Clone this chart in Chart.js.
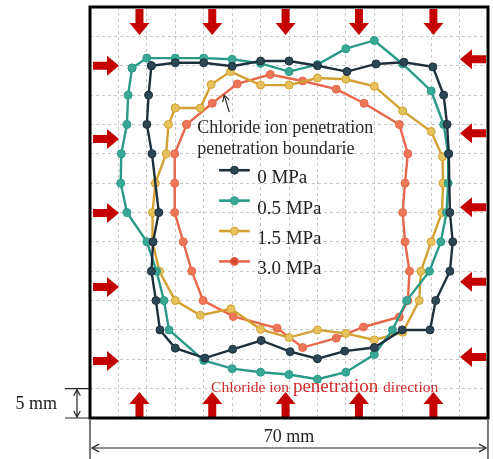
<!DOCTYPE html>
<html>
<head>
<meta charset="utf-8">
<script src="https://cdn.jsdelivr.net/npm/chart.js@4.4.0/dist/chart.umd.min.js"></script>
<style>
  html, body { margin: 0; padding: 0; background: #fff; }
  canvas { display: block; }
</style>
</head>
<body>
<canvas id="chart" width="493" height="459"></canvas>
<script>
// Specimen cross-section, 70 x 70 mm, 5 mm grid
const SIZE_MM = 70;
const GRID_MM = 5;

const seriesLabels = ['0 MPa', '0.5 MPa', '1.5 MPa', '3.0 MPa'];

// Penetration boundaries (mm), traced clockwise from the top-left corner
const mpa0X = [10.8, 15, 20, 25, 30, 35, 40, 45.2, 50.3, 55.2, 60.3, 62.2, 62.8, 63.1, 63.3, 63.8, 63.3, 60.8, 59.8, 54.9, 50, 44.8, 40, 35.2, 30.1, 25.1, 20.2, 15, 12.3, 11.6, 10.8, 11.1, 12.1, 10.9, 10, 10.3];
const mpa0Y = [60, 60.5, 60.5, 59.9, 60.8, 60.8, 60, 59, 60.3, 60.6, 59.8, 55, 50, 45, 35, 30, 25, 20, 15, 15, 12, 11.4, 10.1, 11.3, 13.2, 11.7, 10.2, 11.9, 15, 20, 25, 30, 35, 45, 50, 55];

const mpa05X = [7.4, 10, 15, 20, 25, 30, 35, 40, 45, 50, 55, 60, 62.2, 63, 63, 62.7, 61.7, 59.7, 55.7, 53.2, 50, 45, 40, 35, 30, 25, 20, 13.9, 13, 11.7, 10, 6.5, 5.4, 5.5, 6.5, 6.7];
const mpa05Y = [59.6, 61.3, 61.3, 61.3, 61.1, 60.4, 59, 60.2, 62.9, 64.3, 60.3, 55.7, 50, 45, 40, 35, 30, 25, 20, 15, 10.8, 7.8, 6.6, 7.4, 7.8, 8.4, 9.8, 15, 20, 25, 30, 35, 40, 45, 50, 55];

const mpa15X = [15, 19.4, 21.3, 24.7, 30, 35, 40, 45, 50, 55, 60, 62, 62.1, 61.9, 60, 58.2, 57.9, 55, 50, 45, 40, 35, 30, 24.8, 19.4, 15, 12.2, 11, 11, 11.5, 13.4, 13.8];
const mpa15Y = [52.8, 52.8, 56.8, 59, 56.7, 56.7, 57.9, 57.7, 56.5, 52.3, 48.8, 44.5, 40, 35, 30, 25, 20, 14.6, 13.3, 14.4, 15, 13.7, 15.1, 18.6, 17.5, 20, 25, 30, 35, 40, 45, 50];

const mpa30X = [17, 21.5, 25.9, 31.7, 37.4, 43.3, 48.2, 54.4, 55.9, 55.4, 55, 55.4, 56.2, 55.9, 54.4, 48.1, 43.3, 37.4, 32.9, 25.2, 19.9, 17.9, 16.4, 14.9, 14.9, 14.9];
const mpa30Y = [50, 53.6, 56.9, 58.5, 57.4, 56, 53.6, 50, 45, 40, 35, 30, 25, 20, 17.2, 15.5, 13.6, 12, 15.3, 17.3, 20, 25, 30, 35, 40, 45];

// chloride supply arrows along each face (mm along the face)
const arrowStopsX = [8.7, 21.5, 34.4, 47.3, 60.4];
const arrowStopsLeft = [60.0, 47.5, 34.9, 22.3, 9.7];
const arrowStopsRight = [61.1, 48.5, 35.9, 23.2, 10.4];

const lineColors = ['#1e303b', '#2a9a88', '#d2a132', '#e8674a'];
const pointColors = ['#2c4654', '#3aa894', '#e6c25c', '#ec7658'];

const SERIF = "'Liberation Serif', 'Times New Roman', serif";

function closedLoop(xs, ys) {
    const pts = xs.map((x, i) => ({ x, y: ys[i] }));
    pts.push({ ...pts[0] });
    return pts;
}

const loops = [
    closedLoop(mpa0X, mpa0Y),
    closedLoop(mpa05X, mpa05Y),
    closedLoop(mpa15X, mpa15Y),
    closedLoop(mpa30X, mpa30Y),
];

// solid block arrow from tail (x, y) along unit direction (dx, dy)
function blockArrow(ctx, x, y, dx, dy) {
    const len = 26, shaft = 4, head = 10, headLen = 12;
    const px = -dy, py = dx;
    const bx = x + dx * (len - headLen), by = y + dy * (len - headLen);
    const tx = x + dx * len, ty = y + dy * len;
    ctx.beginPath();
    ctx.moveTo(x + px * shaft, y + py * shaft);
    ctx.lineTo(bx + px * shaft, by + py * shaft);
    ctx.lineTo(bx + px * head, by + py * head);
    ctx.lineTo(tx, ty);
    ctx.lineTo(bx - px * head, by - py * head);
    ctx.lineTo(bx - px * shaft, by - py * shaft);
    ctx.lineTo(x - px * shaft, y - py * shaft);
    ctx.closePath();
    ctx.fill();
}

// thin open arrowhead at (x, y) pointing along (dx, dy)
function openHead(ctx, x, y, dx, dy, size) {
    const px = -dy, py = dx;
    ctx.beginPath();
    ctx.moveTo(x - dx * size + px * size * 0.55, y - dy * size + py * size * 0.55);
    ctx.lineTo(x, y);
    ctx.lineTo(x - dx * size - px * size * 0.55, y - dy * size - py * size * 0.55);
    ctx.stroke();
}

const specimenPlugin = {
    id: 'specimen',
    beforeDatasetsDraw(chart) {
        const { ctx, chartArea: a, scales: { x, y } } = chart;
        ctx.save();
        ctx.fillStyle = '#c40000';
        arrowStopsX.forEach(v => {
            blockArrow(ctx, x.getPixelForValue(v), a.top + 2, 0, 1);
            blockArrow(ctx, x.getPixelForValue(v), a.bottom, 0, -1);
        });
        arrowStopsLeft.forEach(v => blockArrow(ctx, a.left + 3, y.getPixelForValue(v), 1, 0));
        arrowStopsRight.forEach(v => blockArrow(ctx, a.right - 2, y.getPixelForValue(v), -1, 0));
        ctx.restore();
    },
    afterDatasetsDraw(chart) {
        const { ctx, scales: { x, y } } = chart;
        ctx.save();

        // boundary note with pointer
        ctx.fillStyle = '#2a2a2a';
        ctx.font = `18px ${SERIF}`;
        ctx.textBaseline = 'alphabetic';
        ctx.fillText('Chloride ion penetration', x.getPixelForValue(18.85), y.getPixelForValue(48.5));
        ctx.fillText('penetration boundarie', x.getPixelForValue(18.85), y.getPixelForValue(45.0));
        ctx.strokeStyle = '#2a2a2a';
        ctx.lineWidth = 1.2;
        const tipX = x.getPixelForValue(23.6), tipY = y.getPixelForValue(55.0);
        const tailX = x.getPixelForValue(24.5), tailY = y.getPixelForValue(52.1);
        ctx.beginPath();
        ctx.moveTo(tailX, tailY);
        ctx.lineTo(tipX, tipY);
        ctx.stroke();
        const dl = Math.hypot(tipX - tailX, tipY - tailY);
        openHead(ctx, tipX, tipY, (tipX - tailX) / dl, (tipY - tailY) / dl, 6);

        // legend
        const lx0 = x.getPixelForValue(22.7), lx1 = x.getPixelForValue(28.1);
        const textX = x.getPixelForValue(29.4);
        let rowY = y.getPixelForValue(42.2);
        chart.data.datasets.forEach((ds, i) => {
            ctx.strokeStyle = ds.borderColor;
            ctx.lineWidth = 2.6;
            ctx.beginPath();
            ctx.moveTo(lx0, rowY);
            ctx.lineTo(lx1, rowY);
            ctx.stroke();
            ctx.fillStyle = i === 3 ? '#d34a30' : ds.pointBackgroundColor;
            ctx.strokeStyle = ds.borderColor;
            ctx.lineWidth = 1;
            ctx.beginPath();
            ctx.arc((lx0 + lx1) / 2, rowY, 4, 0, Math.PI * 2);
            ctx.fill();
            ctx.stroke();
            ctx.fillStyle = '#222';
            ctx.font = `19px ${SERIF}`;
            ctx.fillText(ds.label, textX, rowY + 13);
            rowY += 30.4;
        });

        // penetration direction caption
        ctx.fillStyle = '#d42a2a';
        let cx = x.getPixelForValue(21.3);
        const base = y.getPixelForValue(4.5);
        [['Chloride ion ', 15.5], ['penetration ', 19], ['direction', 15.5]].forEach(([t, s]) => {
            ctx.font = `${s}px ${SERIF}`;
            ctx.fillText(t, cx, base);
            cx += ctx.measureText(t).width;
        });
        ctx.restore();
    },
    afterDraw(chart) {
        const { ctx, chartArea: a, scales: { x, y } } = chart;
        ctx.save();

        // specimen outline
        ctx.strokeStyle = '#000';
        ctx.lineWidth = 3;
        ctx.strokeRect(a.left, a.top, a.right - a.left, a.bottom - a.top);

        // dimension lines
        ctx.lineWidth = 1.2;
        ctx.strokeStyle = '#222';
        const y5 = y.getPixelForValue(GRID_MM), y0 = y.getPixelForValue(0);
        ctx.beginPath();
        ctx.moveTo(a.left - 25, y5); ctx.lineTo(a.left, y5);
        ctx.moveTo(a.left - 25, y0); ctx.lineTo(a.left, y0);
        ctx.moveTo(a.left - 13, y5 + 1); ctx.lineTo(a.left - 13, y0 - 1);
        ctx.stroke();
        openHead(ctx, a.left - 13, y5 + 1, 0, -1, 6);
        openHead(ctx, a.left - 13, y0 - 1, 0, 1, 6);

        const x0 = x.getPixelForValue(0), x70 = x.getPixelForValue(SIZE_MM);
        const dimY = a.bottom + 30;
        ctx.beginPath();
        ctx.moveTo(x0, a.bottom + 2); ctx.lineTo(x0, chart.height);
        ctx.moveTo(x70, a.bottom + 2); ctx.lineTo(x70, chart.height);
        ctx.moveTo(x0 + 2, dimY); ctx.lineTo(x70 - 2, dimY);
        ctx.stroke();
        openHead(ctx, x0 + 2, dimY, -1, 0, 7);
        openHead(ctx, x70 - 2, dimY, 1, 0, 7);

        ctx.fillStyle = '#222';
        ctx.font = `18px ${SERIF}`;
        ctx.textAlign = 'right';
        ctx.fillText('5 mm', a.left - 33, (y5 + y0) / 2 + 6);
        ctx.textAlign = 'center';
        ctx.fillText('70 mm', (x0 + x70) / 2, a.bottom + 24);
        ctx.restore();
    },
};

const gridAxis = {
    type: 'linear',
    min: 0,
    max: SIZE_MM,
    ticks: { display: false, stepSize: GRID_MM },
    grid: { color: '#c9c9c9', lineWidth: 1, drawTicks: false },
    border: { display: false, dash: [3, 3] },
};

new Chart(document.getElementById('chart'), {
    type: 'scatter',
    data: {
        datasets: loops.map((pts, i) => ({
            label: seriesLabels[i],
            data: pts,
            showLine: true,
            borderColor: lineColors[i],
            borderWidth: 2.4,
            pointBackgroundColor: pointColors[i],
            pointBorderColor: lineColors[i],
            pointBorderWidth: 1,
            pointRadius: 4,
            tension: 0,
        })),
    },
    options: {
        responsive: false,
        animation: false,
        layout: { padding: { left: 90, right: 2, top: 7, bottom: 41 } },
        scales: { x: gridAxis, y: gridAxis },
        plugins: {
            legend: { display: false },
            tooltip: { enabled: false },
        },
        events: [],
    },
    plugins: [specimenPlugin],
});
</script>
</body>
</html>
